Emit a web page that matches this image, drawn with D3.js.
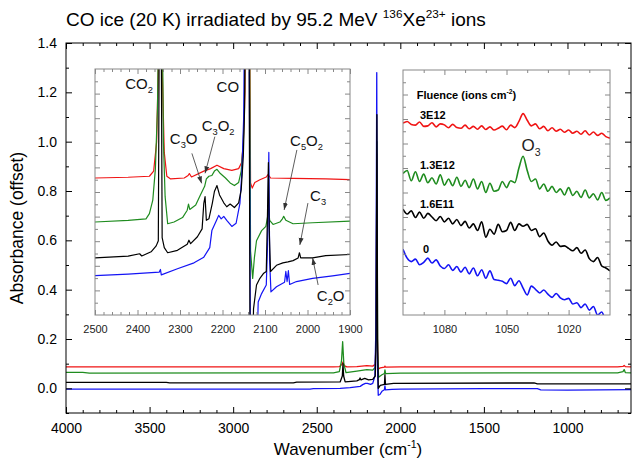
<!DOCTYPE html>
<html>
<head>
<meta charset="utf-8">
<script src="https://cdn.jsdelivr.net/npm/d3@7"></script>
<style>
  body { margin: 0; background: #fff; }
  text { font-family: "Liberation Sans", Arial, sans-serif; white-space: pre; }
</style>
</head>
<body>
<svg id="chart" width="633" height="458"></svg>
<script>
// ---------- main spectrum (full range) ----------
var redWn   = [4000, 2400, 2365, 2350, 2343, 2336, 2320, 2260, 2200, 2165, 2150, 2145, 2140, 2137, 2133, 2120, 2095, 2092, 2088, 2000, 1000, 700, 668, 661, 654, 620];
var redAbs  = [0.087, 0.087, 0.088, 0.097, 0.107, 0.092, 0.087, 0.088, 0.092, 0.090, 0.097, 0.2, 0.95, 0.2, 0.078, 0.083, 0.086, 0.090, 0.086, 0.087, 0.087, 0.087, 0.089, 0.093, 0.088, 0.087];
var greenWn  = [4000, 3900, 3860, 2400, 2365, 2352, 2345, 2338, 2325, 2260, 2200, 2165, 2150, 2145, 2140, 2136, 2130, 2110, 2095, 2092, 2088, 2000, 1200, 700, 668, 661, 654, 620];
var greenAbs = [0.065, 0.065, 0.062, 0.063, 0.068, 0.110, 0.189, 0.100, 0.064, 0.070, 0.076, 0.074, 0.085, 0.2, 1.0, 0.15, 0.045, 0.055, 0.060, 0.075, 0.060, 0.062, 0.063, 0.063, 0.068, 0.076, 0.064, 0.063];
var blueWn  = [4000, 2540, 2520, 2360, 2300, 2240, 2225, 2209, 2197, 2178, 2165, 2152, 2146, 2141, 2137, 2132, 2122, 2110, 2095, 2092, 2089, 2050, 2000, 1500, 1180, 1160, 1000, 620];
var blueAbs = [-0.003, -0.003, -0.001, 0.0, 0.003, 0.008, 0.015, 0.020, 0.020, 0.016, 0.020, 0.050, 0.25, 1.28, 0.10, -0.028, -0.025, -0.012, -0.006, 0.010, -0.006, -0.004, -0.003, -0.001, -0.001, -0.006, -0.007, -0.005];
var blackWn  = [4000, 3400, 3380, 2640, 2620, 2360, 2347, 2343, 2339, 2330, 2260, 2245, 2241, 2235, 2213, 2190, 2165, 2150, 2145, 2140, 2136, 2132, 2120, 2095, 2092, 2089, 2040, 1200, 1180, 620];
var blackAbs = [0.024, 0.024, 0.022, 0.022, 0.025, 0.026, 0.050, 0.100, 0.050, 0.026, 0.030, 0.035, 0.042, 0.034, 0.040, 0.034, 0.036, 0.050, 0.2, 1.11, 0.2, 0.0, 0.012, 0.016, 0.055, 0.016, 0.020, 0.022, 0.018, 0.018];

// ---------- inset 1 : 2500-1900 cm-1 (arbitrary offset units) ----------
var in1RedWn  = [2500,2422,2372,2362,2355,2351,2346,2342,2337,2331,2322,2290,2281,2278,2273,2244,2228,2213,2197,2178,2162,2155,2151,2147,2145,2137,2134,2130,2124,2112,2097,2093,2087,2034,1957,1900];
var in1RedAbs = [0.557,0.560,0.564,0.585,0.703,1.01,1.5,1.01,0.661,0.564,0.553,0.557,0.567,0.575,0.561,0.585,0.595,0.609,0.595,0.588,0.595,0.620,0.703,0.910,1.5,1.5,0.537,0.516,0.539,0.550,0.561,0.571,0.557,0.555,0.553,0.550];
var in1GreenWn  = [2500,2422,2380,2372,2364,2358,2353,2348,2343,2339,2335,2329,2314,2294,2283,2280,2277,2263,2252,2242,2238,2232,2225,2219,2213,2205,2193,2182,2172,2162,2156,2151,2148,2146,2137,2134,2129,2125,2120,2108,2098,2094,2092,2089,2081,2065,2059,2056,2051,2034,1988,1900];
var in1GreenAbs = [0.378,0.385,0.391,0.412,0.467,0.592,0.841,1.5,1.5,0.703,0.481,0.371,0.378,0.396,0.426,0.451,0.429,0.447,0.488,0.523,0.553,0.564,0.567,0.585,0.592,0.575,0.557,0.537,0.526,0.539,0.585,0.703,0.910,1.5,1.5,0.260,0.149,0.232,0.302,0.343,0.360,0.398,0.440,0.385,0.368,0.378,0.391,0.401,0.385,0.371,0.375,0.382];
var in1BlueWn  = [2500,2422,2349,2346,2344,2306,2267,2244,2230,2225,2214,2209,2203,2197,2190,2178,2168,2159,2154,2150,2147,2138,2134,2121,2116,2108,2097,2094,2091,2089,2086,2073,2054,2051,2048,2045,2042,2026,1988,1941,1900];
var in1BlueAbs = [0.160,0.166,0.174,0.185,0.163,0.188,0.212,0.235,0.274,0.343,0.385,0.405,0.391,0.401,0.385,0.360,0.373,0.454,0.592,0.813,1.5,1.5,-0.3,-0.3,0.053,0.087,0.122,0.288,0.661,0.219,0.094,0.115,0.133,0.177,0.136,0.180,0.124,0.136,0.149,0.159,0.169];
var in1BlackWn  = [2500,2422,2395,2390,2368,2356,2351,2348,2345,2342,2337,2329,2306,2283,2279,2275,2259,2248,2244,2241,2238,2232,2224,2219,2213,2207,2197,2190,2182,2172,2162,2156,2151,2148,2146,2138,2135,2130,2127,2120,2112,2103,2097,2094,2092,2090,2087,2073,2058,2046,2034,2022,2019,2016,1988,1957,1900];
var in1BlackAbs = [0.232,0.239,0.249,0.240,0.257,0.281,0.302,1.5,1.5,0.315,0.274,0.253,0.263,0.288,0.304,0.290,0.318,0.350,0.454,0.481,0.385,0.391,0.454,0.502,0.526,0.488,0.456,0.440,0.451,0.437,0.456,0.509,0.647,0.841,1.5,1.5,-0.3,-0.3,0.025,0.122,0.149,0.170,0.177,0.426,0.620,0.343,0.177,0.202,0.212,0.216,0.221,0.232,0.253,0.232,0.232,0.241,0.246];

// ---------- inset 2 : 1100-1000 cm-1 (O3 region) ----------
var in2Wn = [1100,1098,1096,1094,1092,1090,1088,1086,1084,1082,1080,1078,1076,1074,1072,1070,1068,1066,1064,1062,1060,1058,1056,1054,1052,1050,1048,1046,1044,1042,1040,1038,1036,1034,1032,1030,1028,1026,1024,1022,1020,1018,1016,1014,1012,1010,1008,1006,1004,1002,1000];
var in2Red   = [0.783,0.790,0.778,0.775,0.788,0.770,0.772,0.785,0.768,0.780,0.776,0.764,0.778,0.765,0.762,0.775,0.760,0.770,0.758,0.772,0.757,0.768,0.755,0.762,0.771,0.756,0.775,0.765,0.790,0.822,0.795,0.772,0.780,0.760,0.770,0.752,0.764,0.750,0.758,0.746,0.755,0.742,0.750,0.738,0.752,0.735,0.747,0.733,0.742,0.728,0.722];
var in2Green = [0.578,0.590,0.548,0.585,0.545,0.575,0.540,0.560,0.535,0.572,0.530,0.555,0.528,0.562,0.525,0.550,0.520,0.555,0.515,0.545,0.500,0.538,0.505,0.510,0.545,0.520,0.548,0.540,0.600,0.648,0.590,0.545,0.555,0.515,0.535,0.505,0.525,0.500,0.515,0.490,0.520,0.488,0.505,0.480,0.510,0.478,0.495,0.470,0.500,0.468,0.478];
var in2Black = [0.432,0.412,0.425,0.398,0.420,0.395,0.415,0.400,0.385,0.402,0.380,0.395,0.372,0.390,0.365,0.382,0.355,0.372,0.345,0.380,0.318,0.350,0.330,0.370,0.340,0.345,0.378,0.345,0.372,0.362,0.370,0.345,0.352,0.320,0.335,0.302,0.285,0.298,0.280,0.282,0.272,0.262,0.275,0.252,0.265,0.230,0.218,0.235,0.200,0.192,0.180];
var in2Blue  = [0.268,0.232,0.218,0.228,0.205,0.215,0.232,0.212,0.225,0.200,0.190,0.205,0.182,0.198,0.175,0.195,0.168,0.192,0.160,0.185,0.150,0.180,0.145,0.142,0.138,0.128,0.150,0.120,0.140,0.110,0.082,0.118,0.105,0.090,0.102,0.085,0.072,0.088,0.070,0.062,0.068,0.045,0.050,0.030,0.045,0.020,0.035,0.000,0.012,-0.030,-0.060];

// tick labels
var mainXTicks = [4000, 3500, 3000, 2500, 2000, 1500, 1000];
var mainYTicks = [0.0, 0.2, 0.4, 0.6, 0.8, 1.0, 1.2, 1.4];
var in1XTicks = [2500, 2400, 2300, 2200, 2100, 2000, 1900];
var in2XTicks = [1080, 1050, 1020];

// annotations: [text parts, wn, value] and arrows [wnFrom, vFrom, wnTo, vTo]
var in1Labels = [
  [[["CO",0],["2",1]], 2429, 0.919],
  [[["CO",0]], 2214, 0.907],
  [[["C",0],["3",1],["O",0]], 2324, 0.695],
  [[["C",0],["3",1],["O",0],["2",1]], 2249, 0.748],
  [[["C",0],["5",1],["O",0],["2",1]], 2041, 0.687],
  [[["C",0],["3",1]], 1994, 0.463],
  [[["C",0],["2",1],["O",0]], 1978, 0.057]
];
var in1Arrows = [
  [2272, 0.657, 2249, 0.535],
  [2218, 0.725, 2241, 0.576],
  [2025, 0.671, 2055, 0.427],
  [1999, 0.455, 2018, 0.285],
  [1975, 0.122, 1988, 0.232]
];
var in2Labels = [
  ["3E12", 1091.8, 0.800],
  ["1.3E12", 1091.8, 0.596],
  ["1.6E11", 1091.8, 0.437],
  ["0", 1090.3, 0.253]
];

var colors = { red: "#f01414", green: "#1f8c1f", blue: "#1414f5", black: "#000000" };

var svg = d3.select("#chart");
var defs = svg.append("defs");
defs.append("marker").attr("id", "ah").attr("viewBox", "0 0 10 10")
  .attr("refX", 10).attr("refY", 5).attr("markerWidth", 7).attr("markerHeight", 7)
  .attr("markerUnits", "userSpaceOnUse").attr("orient", "auto")
  .append("path").attr("d", "M0,1.5L10,5L0,8.5Z").attr("fill", "#333");

function clip(id, x0, y0, x1, y1) {
  defs.append("clipPath").attr("id", id).append("rect")
    .attr("x", x0).attr("y", y0).attr("width", x1 - x0).attr("height", y1 - y0);
  return "url(#" + id + ")";
}

// text with sub/superscripts, parts = [[str, 0|1(sub)|-1(sup)]]
function rich(g, px, py, parts, size) {
  var t = g.append("text").attr("x", px).attr("y", py).style("font-size", size + "px");
  var shift = 0;
  parts.forEach(function (p) {
    var target = p[1] === 1 ? size * 0.28 : p[1] === -1 ? -size * 0.42 : 0;
    var sp = t.append("tspan").text(p[0]).attr("dy", target - shift);
    if (p[1]) sp.style("font-size", (size * 0.62) + "px");
    shift = target;
  });
  return t;
}

function frame(g, xs, ys, cfg) {
  var xr = xs.range(), yr = ys.range();
  function add(axis, tx, ty) {
    var a = g.append("g").attr("transform", "translate(" + tx + "," + ty + ")").call(axis);
    a.attr("font-family", null).attr("font-size", null);
    a.select(".domain").remove();
    a.selectAll("line").attr("stroke", cfg.color);
    a.selectAll("text").style("font-size", cfg.font + "px").attr("fill", cfg.textColor);
    return a;
  }
  add(d3.axisBottom(xs).tickValues(cfg.xMajor).tickSize(-cfg.major).tickPadding(cfg.pad).tickFormat(cfg.xFmt), 0, yr[0]);
  add(d3.axisBottom(xs).tickValues(cfg.xMinor).tickSize(-cfg.minor).tickFormat(""), 0, yr[0]);
  add(d3.axisTop(xs).tickValues(cfg.xMajor).tickSize(-cfg.major).tickFormat(""), 0, yr[1]);
  add(d3.axisTop(xs).tickValues(cfg.xMinor).tickSize(-cfg.minor).tickFormat(""), 0, yr[1]);
  add(d3.axisLeft(ys).tickValues(cfg.yMajor).tickSize(-cfg.major).tickPadding(cfg.ypad || 3).tickFormat(cfg.yFmt || ""), xr[0], 0);
  add(d3.axisLeft(ys).tickValues(cfg.yMinor).tickSize(-cfg.minor).tickFormat(""), xr[0], 0);
  add(d3.axisRight(ys).tickValues(cfg.yMajor).tickSize(-cfg.major).tickFormat(""), xr[1], 0);
  add(d3.axisRight(ys).tickValues(cfg.yMinor).tickSize(-cfg.minor).tickFormat(""), xr[1], 0);
  g.append("rect").attr("x", xr[0]).attr("y", yr[1]).attr("width", xr[1] - xr[0]).attr("height", yr[0] - yr[1])
    .attr("fill", "none").attr("stroke", cfg.color).attr("stroke-width", cfg.sw || 1);
}

function drawSeries(g, xs, ys, list, width, clipUrl, curve) {
  var gl = g.append("g").attr("clip-path", clipUrl);
  list.forEach(function (s) {
    var pts = s.wn.map(function (w, i) { return [w, s.v[i]]; });
    gl.append("path").datum(pts)
      .attr("d", d3.line().curve(curve || d3.curveLinear)
        .x(function (d) { return xs(d[0]); }).y(function (d) { return ys(d[1]); }))
      .attr("fill", "none").attr("stroke", colors[s.c]).attr("stroke-width", width)
      .attr("stroke-linejoin", "round");
  });
}

// ---------- main chart ----------
var x = d3.scaleLinear().domain([4000, 620]).range([66, 631]);
var y = d3.scaleLinear().domain([-0.1, 1.4]).range([413, 43]);
var main = svg.append("g");

drawSeries(main, x, y, [
  { c: "red", wn: redWn, v: redAbs },
  { c: "green", wn: greenWn, v: greenAbs },
  { c: "blue", wn: blueWn, v: blueAbs },
  { c: "black", wn: blackWn, v: blackAbs }
], 1.3, clip("cMain", 66, 43, 631, 413));

frame(main, x, y, {
  xMajor: mainXTicks, xMinor: d3.range(3900, 620, -100).filter(function (v) { return v % 500 !== 0; }),
  yMajor: mainYTicks, yMinor: [-0.1, 0.1, 0.3, 0.5, 0.7, 0.9, 1.1, 1.3],
  major: 6, minor: 3, pad: 10, ypad: 9, font: 14, color: "#000", textColor: "#000",
  xFmt: d3.format("d"), yFmt: d3.format(".1f")
});

rich(svg, 66, 26, [["CO ice (20 K) irradiated by 95.2 MeV ", 0], ["136", -1], ["Xe", 0], ["23+", -1], [" ions", 0]], 19);
rich(svg, 348, 455, [["Wavenumber (cm", 0], ["-1", -1], [")", 0]], 17).attr("text-anchor", "middle");
svg.append("text").attr("transform", "translate(23,228) rotate(-90)").attr("text-anchor", "middle")
  .style("font-size", "17.5px").text("Absorbance (offset)");

// ---------- inset 1 ----------
var x1 = d3.scaleLinear().domain([2500, 1900]).range([95, 350]);
var y1 = d3.scaleLinear().domain([0, 1]).range([315, 69]);
var ins1 = svg.append("g");
ins1.append("rect").attr("x", 95).attr("y", 69).attr("width", 255).attr("height", 246).attr("fill", "#fff");
drawSeries(ins1, x1, y1, [
  { c: "red", wn: in1RedWn, v: in1RedAbs },
  { c: "green", wn: in1GreenWn, v: in1GreenAbs },
  { c: "blue", wn: in1BlueWn, v: in1BlueAbs },
  { c: "black", wn: in1BlackWn, v: in1BlackAbs }
], 1.2, clip("cIn1", 95, 69, 350, 315));
frame(ins1, x1, y1, {
  xMajor: in1XTicks, xMinor: d3.range(2480, 1900, -20).filter(function (v) { return v % 100 !== 0; }),
  yMajor: d3.range(0.1, 1, 0.1), yMinor: d3.range(0.05, 1, 0.1),
  major: 5, minor: 3, pad: 10, font: 11, color: "#888", textColor: "#222",
  xFmt: d3.format("d")
});
in1Arrows.forEach(function (a) {
  ins1.append("line").attr("x1", x1(a[0])).attr("y1", y1(a[1])).attr("x2", x1(a[2])).attr("y2", y1(a[3]))
    .attr("stroke", "#333").attr("stroke-width", 0.8).attr("marker-end", "url(#ah)");
});
in1Labels.forEach(function (l) { rich(ins1, x1(l[1]), y1(l[2]), l[0], 15).attr("fill", "#111"); });

// ---------- inset 2 ----------
var x2 = d3.scaleLinear().domain([1100, 1000]).range([403, 610]);
var y2 = d3.scaleLinear().domain([0, 1]).range([315, 70]);
var ins2 = svg.append("g");
ins2.append("rect").attr("x", 403).attr("y", 70).attr("width", 207).attr("height", 245).attr("fill", "#fff");
drawSeries(ins2, x2, y2, [
  { c: "red", wn: in2Wn, v: in2Red },
  { c: "green", wn: in2Wn, v: in2Green },
  { c: "black", wn: in2Wn, v: in2Black },
  { c: "blue", wn: in2Wn, v: in2Blue }
], 1.6, clip("cIn2", 403, 70, 610, 315), d3.curveMonotoneX);
frame(ins2, x2, y2, {
  xMajor: in2XTicks, xMinor: d3.range(1090, 1000, -10).filter(function (v) { return v % 30 !== 0; }),
  yMajor: d3.range(0.1, 1, 0.1), yMinor: d3.range(0.05, 1, 0.1),
  major: 5, minor: 3, pad: 10, font: 11, color: "#888", textColor: "#222",
  xFmt: d3.format("d")
});
rich(ins2, x2(1093.4), y2(0.882), [["Fluence (ions cm", 0], ["-2", -1], [")", 0]], 11).style("font-weight", "bold");
in2Labels.forEach(function (l) {
  ins2.append("text").attr("x", x2(l[1])).attr("y", y2(l[2])).style("font-size", "11px")
    .style("font-weight", "bold").text(l[0]);
});
rich(ins2, x2(1042.7), y2(0.669), [["O", 0], ["3", 1]], 17).attr("fill", "#222");
</script>
</body>
</html>
